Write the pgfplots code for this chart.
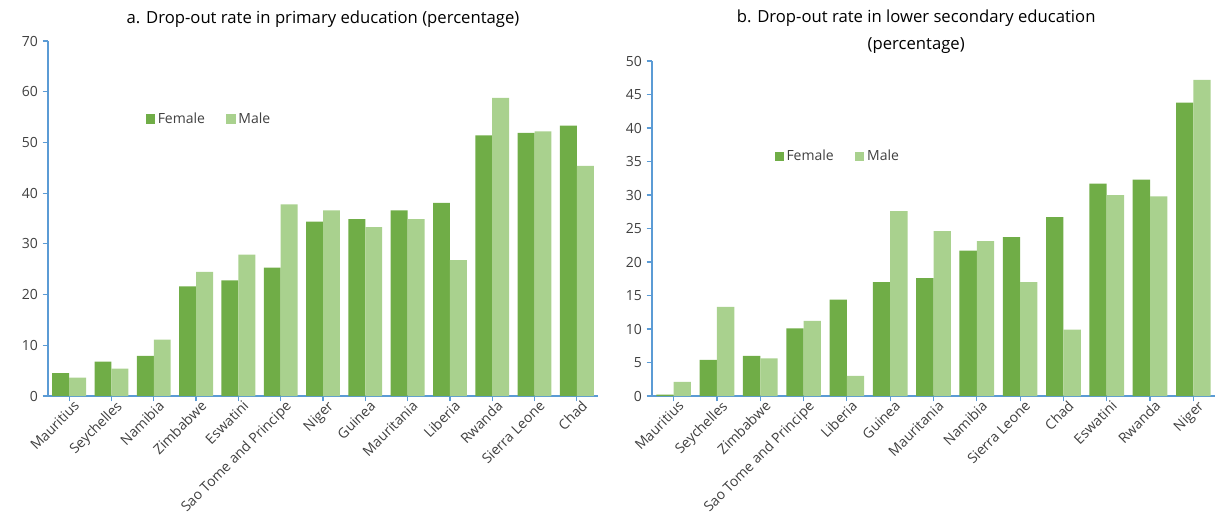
\documentclass[border=0pt]{standalone}
\usepackage{fontspec}
\setmainfont{Open Sans}
\usepackage{pgfplots}
\pgfplotsset{compat=1.18}
\definecolor{female}{HTML}{70AD47}
\definecolor{male}{HTML}{A9D18E}
\definecolor{axblue}{HTML}{5B9BD5}
\definecolor{txt}{HTML}{404040}

\pgfplotsset{
  dropstyle/.style={
    scale only axis,
    axis x line*=bottom, axis y line*=left,
    axis line style={axblue, line width=0.9pt, -},
    tick style={axblue, line width=0.9pt},
    major tick length=4pt,
    tick align=outside,
    ymin=0,
    xmin=-0.5, xmax=12.5,
    xtick={0,...,12},
    ybar=0pt, bar width=0.4,
    ticklabel style={font=\fontsize{10.5}{12}\selectfont, text=txt},
    xticklabel style={rotate=45, anchor=north east, inner sep=1pt, xshift=4pt},
    /pgf/number format/assume math mode=true,
    legend columns=2,
    legend style={draw=none, fill=none, font=\fontsize{10.5}{12}\selectfont, text=txt,
      /tikz/every even column/.append style={column sep=14pt}},
    legend image code/.code={\fill[##1] (0pt,-3.5pt) rectangle (7pt,3.5pt);},
    title style={font=\fontsize{12.5}{20}\selectfont, text=black, align=center},
  }
}

\begin{document}
\begin{tikzpicture}
\path[use as bounding box] (0pt,0pt) rectangle (912.75pt,391.5pt);

\begin{axis}[dropstyle,
  at={(36pt,94.5pt)}, anchor=south west,
  width=412.5pt, height=266.25pt,
  ymax=70, ytick={0,10,...,70},
  xticklabels={Mauritius,Seychelles,Namibia,Zimbabwe,Eswatini,Sao Tome and Principe,Niger,Guinea,Mauritania,Liberia,Rwanda,Sierra Leone,Chad},
  title={a. Drop-out rate in primary education (percentage)},
  title style={at={(0.5,1)}, anchor=south, yshift=0.5pt},
  legend style={at={(0.17,0.78)}, anchor=west},
]
\addplot[fill=female, draw=none] coordinates {
 (0,4.5) (1,6.8) (2,7.9) (3,21.6) (4,22.8) (5,25.3) (6,34.4)
 (7,34.9) (8,36.6) (9,38.1) (10,51.4) (11,51.9) (12,53.3)};
\addplot[fill=male, draw=none] coordinates {
 (0,3.6) (1,5.4) (2,11.1) (3,24.5) (4,27.9) (5,37.8) (6,36.6)
 (7,33.3) (8,34.9) (9,26.8) (10,58.8) (11,52.2) (12,45.4)};
\legend{Female,Male}
\end{axis}

\begin{axis}[dropstyle,
  at={(489pt,94.5pt)}, anchor=south west,
  width=422.25pt, height=251.25pt,
  ymax=50, ytick={0,5,...,50},
  xticklabels={Mauritius,Seychelles,Zimbabwe,Sao Tome and Principe,Liberia,Guinea,Mauritania,Namibia,Sierra Leone,Chad,Eswatini,Rwanda,Niger},
  title={b. Drop-out rate in lower secondary education\\(percentage)},
  title style={at={(0.5,1)}, anchor=south, yshift=-4pt, xshift=-13pt},
  legend style={at={(0.21,0.715)}, anchor=west},
]
\addplot[fill=female, draw=none] coordinates {
 (0,0.2) (1,5.4) (2,6.0) (3,10.1) (4,14.4) (5,17.0) (6,17.6)
 (7,21.7) (8,23.7) (9,26.7) (10,31.7) (11,32.3) (12,43.8)};
\addplot[fill=male, draw=none] coordinates {
 (0,2.1) (1,13.3) (2,5.6) (3,11.2) (4,3.0) (5,27.6) (6,24.6)
 (7,23.1) (8,17.0) (9,9.9) (10,30.0) (11,29.8) (12,47.2)};
\legend{Female,Male}
\end{axis}
\end{tikzpicture}
\end{document}
